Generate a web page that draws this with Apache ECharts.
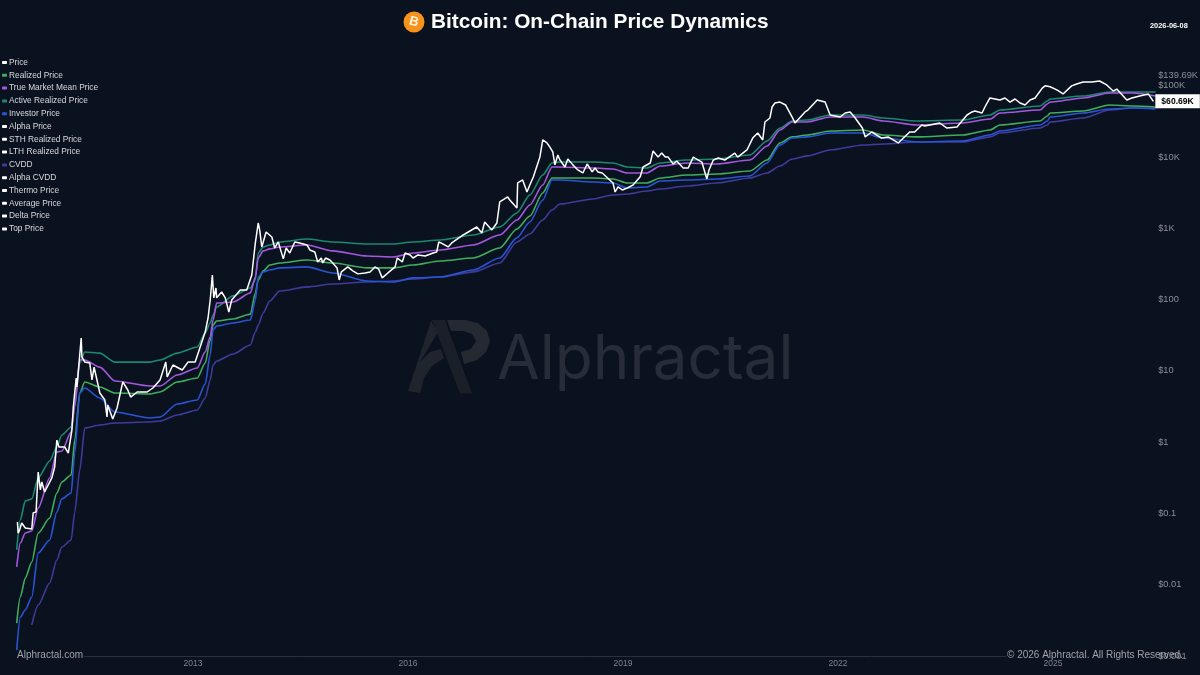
<!DOCTYPE html>
<html><head><meta charset="utf-8">
<style>html,body{margin:0;padding:0;background:#0b121f}#c{width:1200px;height:675px}</style>
<script src="https://cdn.jsdelivr.net/npm/echarts@6/dist/echarts.min.js"></script></head>
<body><div id="c"></div>
<script>
const legendNames = ['Price','Realized Price','True Market Mean Price','Active Realized Price','Investor Price','Alpha Price','STH Realized Price','LTH Realized Price','CVDD','Alpha CVDD','Thermo Price','Average Price','Delta Price','Top Price'];
const yearTicks = [2013,2016,2019,2022,2025];

const lineYears = [2010.54,2010.59,2010.66,2010.75,2010.84,2011.00,2011.10,2011.17,2011.30,2011.35,2011.42,2011.49,2011.70,2011.91,2012.40,2012.54,2012.78,2013.06,2013.17,2013.24,2013.28,2013.33,2013.56,2013.80,2013.87,2013.91,2013.98,2014.07,2014.21,2014.59,2014.95,2015.43,2015.79,2016.07,2016.45,2016.91,2017.28,2017.52,2017.70,2017.88,2018.01,2018.12,2018.58,2018.86,2019.06,2019.33,2019.52,2019.89,2020.31,2020.77,2021.01,2021.19,2021.36,2021.57,2021.89,2022.35,2022.63,2023.10,2023.74,2024.12,2024.26,2024.82,2024.92,2024.96,2025.42,2025.79,2026.12,2026.43];

const activeRealized = [0.0308,0.0808,0.150,0.160,0.315,0.545,0.856,1.26,1.63,3.32,12.9,18.4,17.8,13.3,13.3,14.2,17.8,21.7,34.0,47.0,60.8,78.8,113,146,189,452,549,585,645,710,645,604,604,645,688,808,1046,1645,2940,5610,8270,8530,8530,8270,7270,7030,8270,9100,9400,10700,16800,25600,32100,33100,39000,39000,35400,32100,33100,39000,45800,52100,61300,65400,72000,82100,82100,82100];

const trueMarketMean = [0.0178,0.0384,0.0531,0.0567,0.119,0.315,0.729,0.753,1.39,3.12,14.2,14.2,11.3,7.22,6.14,6.14,8.78,11.0,18.4,29.9,51.7,89.7,92.7,124,208,384,483,515,549,585,483,410,397,452,498,585,808,1310,2130,4060,7270,7270,7030,6810,5990,5990,7500,8270,8000,9100,14300,24000,31100,31100,36500,36500,32100,28200,30100,34200,41600,45800,55700,59200,67600,79400,79400,72000];

const realizedPrice = [0.0029,0.00672,0.0124,0.0208,0.0531,0.0862,0.194,0.277,0.347,1.07,4.90,7.00,5.95,4.90,4.75,5.06,7.00,7.96,12.9,27.1,44.0,50.1,53.5,62.7,124,189,253,307,327,360,327,279,279,307,349,384,531,980,1490,3140,5100,5100,5100,4940,4340,4340,5100,5610,5800,6390,9100,15800,19200,20400,23200,24000,20400,19200,20400,24000,28200,32100,37800,41600,44300,53800,52100,50500];

const investorPrice = [0.00121,0.00352,0.00442,0.00672,0.0279,0.0424,0.105,0.160,0.194,0.705,4.90,5.76,4.17,2.65,2.19,2.26,3.44,3.91,6.55,16.7,37.5,42.6,47.0,51.7,98.8,208,245,261,279,288,237,183,177,202,208,261,384,735,1230,2500,4780,4780,4480,4340,3690,3810,4630,4780,4940,5440,8270,14800,18500,19200,21800,21800,18500,16300,16800,20400,23200,28200,32100,36500,41600,47300,48800,47300];

const cvdd = [null,null,null,0.00272,0.00519,0.0106,0.0222,0.0338,0.0424,0.105,0.408,1.58,1.74,1.86,1.92,1.98,2.41,2.83,4.17,7.46,12.1,13.8,17.3,23.1,35.1,44.0,65.0,95.5,132,151,166,177,183,195,208,245,327,645,835,1310,1810,2200,2590,2940,3040,3350,3570,3940,4340,5100,5990,7500,9400,10400,12600,14800,15300,16300,16300,19200,21800,25600,28200,31100,35400,45800,48800,48800];

const priceYears = [2010.55,2010.56,2010.58,2010.61,2010.66,2010.75,2010.77,2010.81,2010.84,2010.87,2010.89,2010.93,2011.03,2011.07,2011.10,2011.13,2011.21,2011.26,2011.31,2011.33,2011.37,2011.38,2011.41,2011.44,2011.45,2011.49,2011.56,2011.59,2011.62,2011.66,2011.70,2011.77,2011.80,2011.81,2011.88,2011.94,2012.02,2012.09,2012.13,2012.22,2012.36,2012.44,2012.54,2012.62,2012.64,2012.72,2012.85,2012.93,2013.03,2013.10,2013.17,2013.21,2013.24,2013.27,2013.29,2013.32,2013.33,2013.40,2013.45,2013.50,2013.54,2013.66,2013.75,2013.82,2013.87,2013.91,2013.93,2013.96,2014.02,2014.10,2014.14,2014.19,2014.26,2014.30,2014.35,2014.42,
2014.49,2014.59,2014.63,2014.70,2014.74,2014.79,2014.81,2014.85,2014.91,2014.95,2015.01,2015.04,2015.07,2015.09,2015.16,2015.23,2015.30,2015.40,2015.47,2015.54,2015.59,2015.64,2015.72,2015.82,2015.85,2015.92,2015.96,2016.03,2016.07,2016.14,2016.24,2016.35,2016.40,2016.43,
2016.46,2016.56,2016.61,2016.77,2016.96,2017.03,2017.07,2017.17,2017.24,2017.28,2017.39,2017.42,2017.52,2017.53,2017.60,2017.66,2017.70,2017.75,2017.79,2017.84,2017.88,2017.94,2017.98,2018.02,
2018.05,2018.09,2018.12,2018.19,2018.23,2018.30,2018.37,2018.44,2018.50,2018.57,2018.61,2018.65,2018.71,2018.86,2018.89,2018.93,2018.99,2019.06,2019.14,2019.24,2019.28,2019.38,2019.42,2019.49,2019.54,2019.59,2019.63,2019.70,2019.75,2019.84,2019.91,2019.98,2020.10,2020.17,2020.20,2020.26,2020.33,2020.42,2020.56,
2020.60,2020.73,2020.81,2020.88,2020.95,2020.98,2021.05,2021.08,2021.12,2021.19,2021.27,2021.36,2021.40,2021.54,2021.58,2021.71,2021.82,2021.89,2022.03,2022.10,2022.17,2022.24,2022.34,2022.38,2022.47,2022.61,2022.70,2022.84,2022.86,2023.00,2023.07,2023.17,2023.21,2023.42,2023.52,2023.66,2023.80,2023.87,
2023.91,2024.01,2024.05,2024.12,2024.19,2024.26,2024.33,2024.40,2024.47,2024.54,2024.61,2024.68,2024.75,2024.85,2024.89,2024.96,2025.06,2025.14,2025.26,2025.33,2025.42,2025.54,2025.65,2025.75,2025.84,2025.89,2026.03,2026.10,2026.21,2026.33,2026.40,2026.435];

const priceValues = [0.0758,0.0531,0.0585,0.0735,0.0625,0.0604,0.102,0.105,0.382,0.214,0.277,0.20,0.315,0.449,1.07,0.856,0.856,0.705,1.48,3.12,7.96,5.95,12.9,29.0,15.7,13.3,12.9,7.46,11.3,7.46,4.90,3.91,2.26,3.32,2.11,3.02,7.00,5.40,4.30,5.06,5.06,5.76,7.46,13.3,8.22,12.1,10.3,13.3,13.3,21.7,35.1,55.3,98.8,222,106,146,106,128,106,67.2,98.8,137,137,222,625,1190,952,549,890,758,531,645,373,531,452,645,
625,585,498,466,338,384,327,384,360,327,279,189,245,237,288,253,230,237,245,288,269,202,237,288,384,338,452,424,384,424,410,452,466,645,
625,549,625,808,1046,862,1230,952,1190,2350,2760,2500,1930,4340,4780,3240,4060,5300,7030,10000,17400,15800,13800,
11800,7780,10700,9100,7270,9400,7780,6600,5990,8000,6200,7030,6200,5990,4340,3240,3810,3460,3690,4060,5300,7270,8270,12200,10000,11400,10000,10000,8000,8800,7030,7030,10000,8530,4940,6600,9100,9700,9100,
11400,10000,12600,18500,21800,17400,31100,35400,50500,57500,59200,53800,36500,30100,43000,45800,63300,59200,39000,36500,41600,43000,35400,25600,19200,22500,18500,19200,15800,16300,22500,22500,28200,27300,30100,25600,26400,39000,
43000,44300,41600,50500,67600,65400,63300,67600,59200,65400,57500,53800,63300,67600,93000,100000,97000,87000,77000,100000,106000,113000,113000,117000,103000,84500,90000,63300,67600,72000,77000,60690];

const zip = (xs, ys) => xs.map((x, i) => [x, ys[i]]);
const smoothLine = (name, color, ys, z) => ({
  name, type: 'line', data: zip(lineYears, ys), showSymbol: false, symbol: 'none', smooth: 0.25, smoothMonotone: 'x',
  connectNulls: false, z, itemStyle: {color}, lineStyle: {color, width: 1.6}
});
const seen = ['Price','Realized Price','True Market Mean Price','Active Realized Price','Investor Price','CVDD'];
const hiddenSeries = legendNames.filter(n => !seen.includes(n)).map(name => ({
  name, type: 'line', data: [], symbol: 'none', itemStyle: {color: '#ffffff'}, lineStyle: {color: '#ffffff'}
}));

const fmtY = v => {
  const n = Number(Number(v).toPrecision(5));
  return n >= 1000 ? '$' + Number((n / 1000).toFixed(2)) + 'K' : '$' + n;
};

const chart = echarts.init(document.getElementById('c'), null, {renderer: 'canvas'});
const FONT = '"Liberation Sans", Arial, sans-serif';
const BG = '#0b121f';
const poly = (points, fill) => ({type: 'polygon', silent: true, z: 0, shape: {points}, style: {fill}});
chart.setOption({
  animation: false,
  backgroundColor: BG,
  textStyle: {fontFamily: FONT},
  grid: {left: 16.7, top: 75.5, width: 1139.5, height: 580.5, containLabel: false, outerBoundsMode: 'none'},
  legend: {
    data: legendNames, orient: 'vertical', left: 2, top: 58.5, icon: 'roundRect', itemWidth: 5, itemHeight: 3,
    itemGap: 4.8, selectedMode: false, padding: 0,
    textStyle: {color: '#d6d8dc', fontSize: 8.35, fontFamily: FONT, padding: [0, 0, 0, -3]}
  },
  xAxis: {
    type: 'value', min: 2010.54, max: 2026.44, splitLine: {show: false},
    axisLine: {show: true, onZero: false, lineStyle: {color: '#2b313b', width: 1}}, axisTick: {show: false},
    axisLabel: {customValues: yearTicks, color: '#7f848c', fontSize: 8.5, margin: 3, formatter: v => String(v)}
  },
  yAxis: {
    type: 'log', logBase: 10, position: 'right', min: 0.001, max: 139690,
    splitLine: {show: false}, axisLine: {show: false}, axisTick: {show: false},
    axisLabel: {color: '#8a8f97', fontSize: 9.3, margin: 2, showMinLabel: true, showMaxLabel: true, hideOverlap: false, formatter: fmtY}
  },
  graphic: [
    poly([[431,321],[408,391],[420,393],[424,378],[432,366],[444,358],[441,349],[430,352],[420,362],[438,332]], '#1f242d'),
    poly([[432,320],[445,320],[472,393.5],[460,393.5]], '#1a1f28'),
    poly([[447,320],[465,320],[478,323],[487,331],[490,341],[486,352],[477,360],[464,364],[461,352],[471,349],[476,341],[472,334],[463,331],[451,331]], '#242932'),
    {type: 'text', silent: true, z: 0, style: {text: 'Alphractal', x: 497, y: 360, fill: '#272d38', font: '400 62px Inter, Lato, sans-serif', verticalAlign: 'middle'}},
    {type: 'circle', silent: true, z: 5, shape: {cx: 414, cy: 22, r: 10.5}, style: {fill: '#f7931a'}},
    {type: 'text', silent: true, z: 6, x: 414, y: 22, rotation: -0.24, style: {text: 'B', x: 0, y: 0, fill: '#fff3e0', font: 'bold 13px ' + FONT, align: 'center', verticalAlign: 'middle'}},
    {type: 'text', silent: true, z: 6, style: {text: 'Bitcoin: On-Chain Price Dynamics', x: 431, y: 22.5, fill: '#ffffff', font: 'bold 20.8px ' + FONT, verticalAlign: 'middle'}},
    {type: 'text', silent: true, z: 6, style: {text: '2026-06-08', x: 1150, y: 26, fill: '#ffffff', font: 'bold 7.4px ' + FONT, verticalAlign: 'middle'}},
    {type: 'rect', silent: true, z: 50, shape: {x: 16, y: 654, width: 68, height: 5}, style: {fill: BG}},
    {type: 'rect', silent: true, z: 50, shape: {x: 1006, y: 654, width: 152, height: 5}, style: {fill: BG}},
    {type: 'text', silent: true, z: 60, style: {text: 'Alphractal.com', x: 17, y: 655, fill: '#9ea2a9', font: '10px ' + FONT, verticalAlign: 'middle'}},
    {type: 'text', silent: true, z: 60, style: {text: '\u00A9 2026 Alphractal. All Rights Reserved.', x: 1007, y: 655, fill: '#9ea2a9', font: '10px ' + FONT, verticalAlign: 'middle'}}
  ],
  series: [
    {name: 'Price', type: 'line', data: zip(priceYears, priceValues), symbol: 'none', showSymbol: false, z: 10,
     itemStyle: {color: '#ffffff'}, lineStyle: {color: '#ffffff', width: 1.5},
     endLabel: {show: true, formatter: '$60.69K', color: '#000', fontWeight: 'bold', fontSize: 8.6, fontFamily: FONT,
       backgroundColor: '#ffffff', padding: [3, 6, 2, 6], distance: 0, offset: [2, 0], align: 'left'}},
    smoothLine('Realized Price', '#3fae5c', realizedPrice, 5),
    smoothLine('True Market Mean Price', '#a458e0', trueMarketMean, 6),
    smoothLine('Active Realized Price', '#1c8870', activeRealized, 4),
    smoothLine('Investor Price', '#2855d6', investorPrice, 5),
    smoothLine('CVDD', '#403a9c', cvdd, 3),
    ...hiddenSeries
  ]
});
</script></body></html>
